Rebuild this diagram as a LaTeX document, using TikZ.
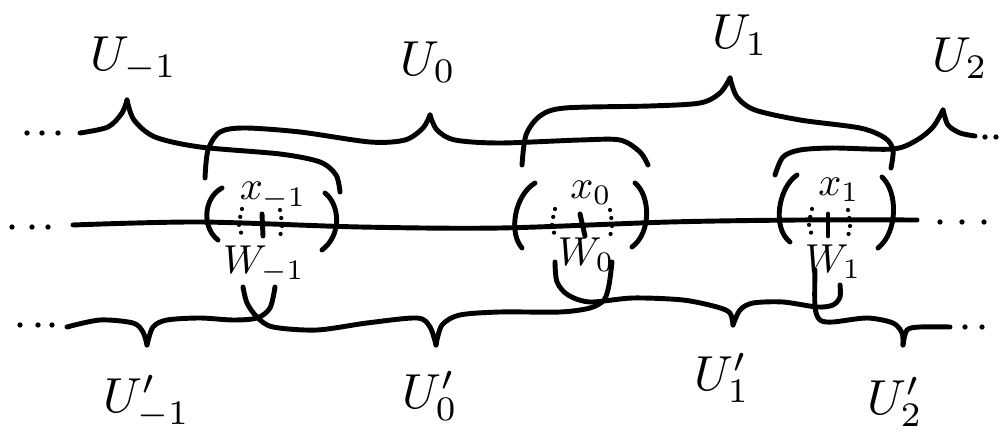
\documentclass[tikz,border=0pt]{standalone}
\usepackage{amsmath, amssymb}
\usepackage{tikz}
\usetikzlibrary{calc}

\tikzset{
    pen/.style={line width=2.8pt, line cap=round, line join=round},
    nbhd/.style={line width=2.4pt, line cap=round, dash pattern=on 0pt off 4.6pt},
    biglabel/.style={scale=2.8, inner sep=0pt},
    midlabel/.style={scale=2.3, inner sep=0pt}
}

\begin{document}
\begin{tikzpicture}[x=0.02cm, y=-0.02cm, pen]
    \useasboundingbox (0,0) rectangle (1000,438);

    % Dấu ba chấm ở hai đầu
    \foreach \x/\y in {27/133, 42/133, 58/133, 12/227, 32/227, 48/227,
                       20/325, 38/325, 52/325, 985/137, 996/137,
                       940/222, 962/222, 984/222, 965/327, 982/327} {
        \fill (\x,\y) circle[radius=1.5pt];
    }

    % Đường thẳng ở giữa
    \draw plot[smooth] coordinates {(73,225) (200,222) (360,227) (500,228) (670,222) (800,220) (917,220)};

    % Các ngoặc phía trên: U_{-1}, U_0, U_1, U_2
    \draw plot[smooth] coordinates {(80,133) (108,127) (122,113) (127,100)};
    \draw plot[smooth] coordinates {(127,100) (134,120) (155,137) (200,147) (280,154) (320,162) (336,175) (340,192)};
    \draw plot[smooth] coordinates {(205,178) (208,150) (220,132) (245,128) (300,132) (370,142) (405,140) (423,128) (430,115)};
    \draw plot[smooth] coordinates {(430,115) (437,130) (455,140) (500,143) (580,140) (620,140) (640,152) (648,165)};
    \draw plot[smooth] coordinates {(522,165) (526,135) (540,116) (565,108) (650,106) (700,103) (720,93) (730,78)};
    \draw plot[smooth] coordinates {(730,78) (737,97) (755,110) (800,120) (860,128) (885,138) (893,150) (891,168)};
    \draw plot[smooth] coordinates {(775,175) (783,157) (800,150) (833,148) (893,149) (917,140) (933,127) (943,110)};
    \draw plot[smooth] coordinates {(943,110) (948,125) (960,133) (975,136)};

    % Các ngoặc phía dưới: U'_{-1}, U'_0, U'_1, U'_2
    \draw plot[smooth] coordinates {(67,327) (100,320) (133,323) (143,332) (147,345)};
    \draw plot[smooth] coordinates {(147,345) (153,327) (167,320) (200,318) (233,320) (257,318) (270,308) (275,287)};
    \draw plot[smooth] coordinates {(243,287) (247,303) (257,317) (273,327) (317,330) (367,323) (417,318) (430,327) (436,345)};
    \draw plot[smooth] coordinates {(436,345) (442,325) (460,315) (500,312) (560,312) (590,308) (604,300) (609,285) (612,262)};
    \draw plot[smooth] coordinates {(555,262) (557,282) (568,295) (590,302) (633,298) (683,300) (717,307) (730,313) (733,325)};
    \draw plot[smooth] coordinates {(733,325) (740,310) (753,303) (783,302) (817,307) (833,305) (840,297) (840,285)};
    \draw plot[smooth] coordinates {(815,270) (815,307) (820,320) (833,322) (867,318) (893,323) (902,333) (903,345)};
    \draw plot[smooth] coordinates {(903,345) (907,330) (920,327) (950,327)};

    % Dấu ngoặc tròn quanh các điểm
    \draw (222,188) .. controls (203,198) and (202,228) .. (218,240);
    \draw (325,193) .. controls (340,205) and (342,235) .. (322,250);
    \draw (535,183) .. controls (515,195) and (508,232) .. (522,248);
    \draw (635,183) .. controls (650,195) and (652,232) .. (632,247);
    \draw (797,175) .. controls (778,188) and (772,228) .. (790,242);
    \draw (882,177) .. controls (898,192) and (898,232) .. (878,248);

    % Vạch đánh dấu và lân cận W
    \foreach \a/\b in {262/263, 580/585, 828/828} {
        \draw (\a,214) -- (\b,236);
    }
    \foreach \l/\r in {240/281, 553/611, 810/849} {
        \draw[nbhd] plot[smooth] coordinates {(\l+2,209) (\l-1,226) (\l+4,239)};
        \draw[nbhd] plot[smooth] coordinates {(\r-1,210) (\r+1,226) (\r-2,240)};
    }

    % Nhãn
    \node[biglabel] (Um1) at (134,59) {$U_{-1}$};
    \node[biglabel] (U0)  at (428,62) {$U_0$};
    \node[biglabel] (U1)  at (740,35) {$U_1$};
    \node[biglabel] (U2)  at (960,58) {$U_2$};
    \node[biglabel] (Vm1) at (147,402) {$U'_{-1}$};
    \node[biglabel] (V0)  at (430,396) {$U'_0$};
    \node[biglabel] (V1)  at (722,378) {$U'_1$};
    \node[biglabel] (V2)  at (895,402) {$U'_2$};
    \node[midlabel] (xm1) at (273,196) {$x_{-1}$};
    \node[midlabel] (x0)  at (591,193) {$x_0$};
    \node[midlabel] (x1)  at (839,190) {$x_1$};
    \node[midlabel] (Wm1) at (264,264) {$W_{-1}$};
    \node[midlabel] (W0)  at (586,255) {$W_0$};
    \node[midlabel] (W1)  at (833,262) {$W_1$};
\end{tikzpicture}
\end{document}
